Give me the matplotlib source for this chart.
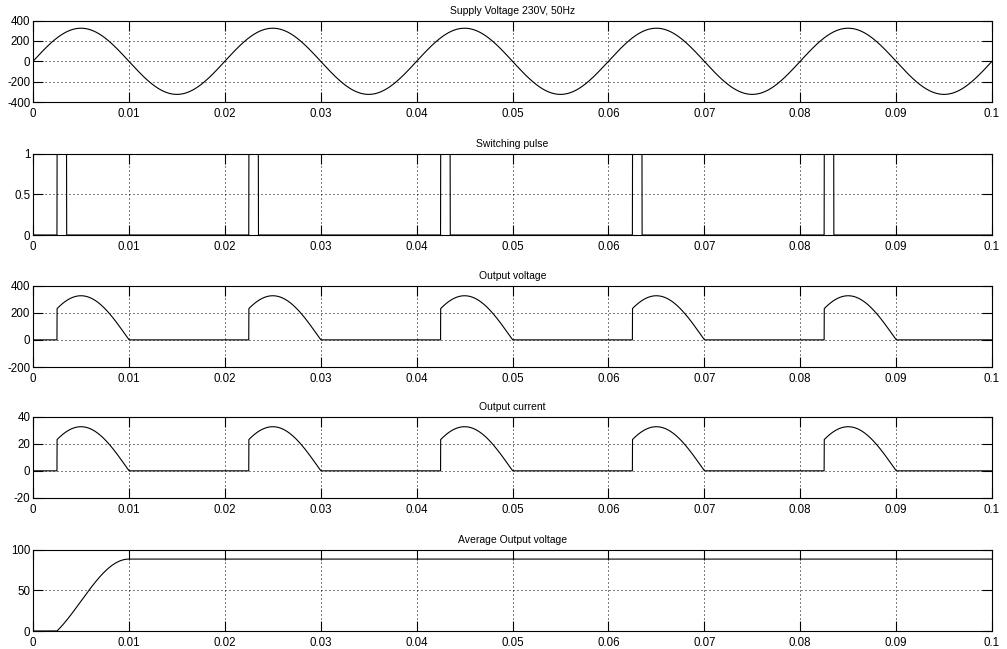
import numpy as np
import matplotlib
matplotlib.use('Agg')
import matplotlib.pyplot as plt

# values (half-wave controlled rectifier, R load)
v_peak = 325.0          # supply peak, V
f_supply = 50.0         # Hz
t_fire = 0.0025         # firing delay in each cycle, s
pulse_width = 0.001     # gate pulse width, s
r_load = 10.0           # ohm
t_end = 0.1

titles = ['Supply Voltage 230V, 50Hz', 'Switching pulse', 'Output voltage',
          'Output current', 'Average Output voltage']
yticks = [[-400, -200, 0, 200, 400], [0, 0.5, 1], [-200, 0, 200, 400],
          [-20, 0, 20, 40], [0, 50, 100]]
ytick_labels = [['-400', '-200', '0', '200', '400'], ['0', '0.5', '1'],
                ['-200', '0', '200', '400'], ['-20', '0', '20', '40'],
                ['0', '50', '100']]
xticks = [0, 0.01, 0.02, 0.03, 0.04, 0.05, 0.06, 0.07, 0.08, 0.09, 0.1]
xtick_labels = ['0', '0.01', '0.02', '0.03', '0.04', '0.05', '0.06', '0.07', '0.08', '0.09', '0.1']

period = 1.0 / f_supply
t = np.linspace(0, t_end, 20001)
vs = v_peak * np.sin(2 * np.pi * f_supply * t)
tp = np.mod(t, period)
gate = ((tp >= t_fire) & (tp < t_fire + pulse_width)).astype(float)
conducting = (tp >= t_fire) & (tp < period / 2)
vo = np.where(conducting, vs, 0.0)
io = vo / r_load
# running one-cycle mean of the output voltage
dt = t[1] - t[0]
cum = np.cumsum(vo) * dt
vavg = cum / period
n_per = int(round(period / dt))
vavg[n_per:] = (cum[n_per:] - cum[:-n_per]) / period

series = [vs, gate, vo, io, vavg]

plt.rcParams['font.family'] = ['Liberation Sans', 'DejaVu Sans']
fig = plt.figure(figsize=(10.07, 6.49), dpi=100)
fig.patch.set_facecolor('white')

bottoms = [0.8428, 0.6379, 0.4345, 0.2327, 0.0277]
left, width, height = 0.0328, 0.9523, 0.1255

for i in range(5):
    ax = fig.add_axes([left, bottoms[i], width, height])
    ax.plot(t, series[i], color='black', linewidth=0.8)
    ax.set_xlim(0, t_end)
    ax.set_ylim(yticks[i][0], yticks[i][-1])
    ax.set_xticks(xticks)
    ax.set_xticklabels(xtick_labels)
    ax.set_yticks(yticks[i])
    ax.set_yticklabels(ytick_labels[i])
    ax.tick_params(direction='in', length=7, width=0.8, labelsize=8.3,
                   top=True, right=True)
    ax.tick_params(axis='x', pad=4)
    ax.tick_params(axis='y', pad=2)
    ax.grid(True, color='black', linestyle=(0, (1, 3)), linewidth=0.72)
    for s in ax.spines.values():
        s.set_linewidth(0.8)
    ax.set_title(titles[i], fontsize=7.5, pad=5)

plt.savefig('out.png', dpi=100)
